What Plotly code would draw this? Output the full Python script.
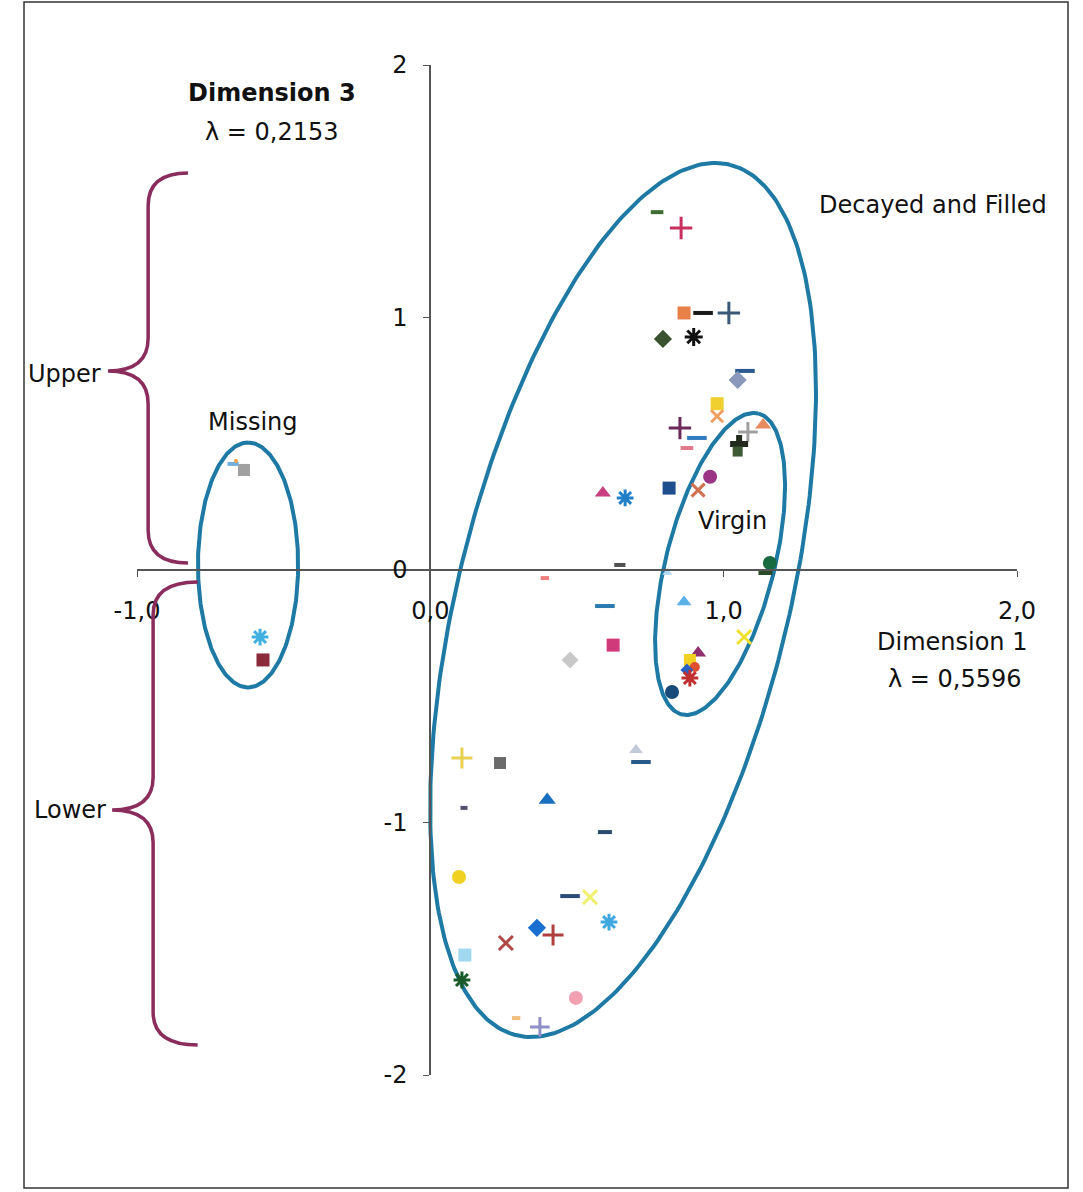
import numpy as np
import plotly.graph_objects as go

# ---------------- data (Dimension 1, Dimension 3) ----------------
dim1 = [0.775, 0.857, 0.867, 0.932, 1.020, 0.795, 0.900, 1.075, 1.050, 0.980,
        0.980, 0.853, 0.911, 0.877, 1.085, 1.137, 1.055, 1.050, 0.956, 0.915,
        0.816, 0.590, 0.666, 1.160, 1.145, 0.648, 0.392, 0.810, 0.597, 0.867,
        1.072, 0.625, 0.478, 0.915, 0.887, 0.904, 0.877, 0.887, 0.826, 0.109,
        0.239, 0.703, 0.720, 0.116, 0.400, 0.597, 0.099, 0.478, 0.546, 0.611,
        0.365, 0.420, 0.259, 0.119, 0.109, 0.498, 0.294, 0.375, -0.635, -0.672,
        -0.662, -0.580, -0.570]
dim3 = [1.420, 1.357, 1.020, 1.020, 1.020, 0.917, 0.925, 0.790, 0.754, 0.660,
        0.610, 0.563, 0.524, 0.484, 0.548, 0.575, 0.500, 0.470, 0.370, 0.317,
        0.325, 0.306, 0.286, 0.028, -0.012, 0.020, -0.032, -0.010, -0.143, -0.127,
        -0.266, -0.298, -0.357, -0.329, -0.357, -0.385, -0.397, -0.429, -0.484, -0.746,
        -0.766, -0.714, -0.762, -0.944, -0.913, -1.040, -1.218, -1.294, -1.298, -1.397,
        -1.420, -1.448, -1.480, -1.528, -1.627, -1.698, -1.778, -1.813, 0.397, 0.421,
        0.433, -0.266, -0.357]
marker_symbols = ["line-ew", "cross-thin", "square", "line-ew", "cross-thin", "diamond", "asterisk", "line-ew", "diamond", "square",
                  "x-thin", "cross-thin", "line-ew", "line-ew", "cross-thin", "triangle-up", "cross", "square", "circle", "x-thin",
                  "square", "triangle-up", "asterisk", "circle", "line-ew", "line-ew", "line-ew", "triangle-up", "line-ew", "triangle-up",
                  "x-thin", "square", "diamond", "triangle-up", "square", "circle", "diamond", "asterisk", "circle", "cross-thin",
                  "square", "triangle-up", "line-ew", "line-ew", "triangle-up", "line-ew", "circle", "line-ew", "x-thin", "asterisk",
                  "diamond", "cross-thin", "x-thin", "square", "asterisk", "circle", "line-ew", "cross-thin", "square", "line-ew",
                  "circle", "asterisk", "square"]
marker_colors = ["#3f6e35", "#c8305e", "#e8804a", "#1a1a1a", "#3a5878", "#3b5230", "#111111", "#2a5a90", "#8a98bb", "#f0d030",
                 "#f0a060", "#6a2a5a", "#2f7ac0", "#e07a8a", "#a0a0a0", "#e88a60", "#222a1e", "#3d5a35", "#9a3585", "#d07050",
                 "#1f4e8c", "#c8407f", "#2080c8", "#1a6a40", "#2a4a2a", "#505050", "#f08080", "#b0d8f0", "#2a7ab0", "#5ab0e8",
                 "#f0e030", "#d03a7a", "#c8c8c8", "#903070", "#f0d020", "#e05030", "#2a60c0", "#c03030", "#1a4a7a", "#e8d050",
                 "#6a6a6a", "#c0cad8", "#2a5a8a", "#505070", "#1a70c0", "#2a4a70", "#f0d020", "#2a4a78", "#f0f070", "#40a8e0",
                 "#1a70d0", "#b04040", "#b04848", "#a0d8f0", "#1a5a2a", "#f0a0b0", "#f0c080", "#9090c8", "#a0a0a0", "#70b0e0",
                 "#f0a040", "#40b0e0", "#8a2a3a"]
marker_sizes = [9, 16, 13, 14, 16, 14, 15, 14, 14, 13,
                12, 16, 14, 9, 14, 14, 15, 10, 14, 13,
                13, 14, 14, 14, 10, 8, 6, 9, 14, 13,
                14, 13, 13, 14, 12, 10, 10, 14, 14, 15,
                12, 12, 14, 5, 15, 10, 14, 14, 14, 14,
                14, 15, 14, 13, 14, 14, 6, 14, 12, 8,
                4, 14, 13]

x_ticks = [-1, 0, 1, 2]
x_tick_text = ["-1,0", "0,0", "1,0", "2,0"]
y_ticks = [-2, -1, 0, 1, 2]
y_tick_text = ["-2", "-1", "0", "1", "2"]

# group ellipses: centre, major semi-axis vector, minor semi-axis vector (data units)
ellipses = {
    "Decayed and Filled": (0.659, -0.119, 0.365, 1.727, 0.548, -0.157),
    "Virgin": (0.990, 0.024, 0.131, 0.597, 0.179, -0.053),
    "Missing": (-0.621, 0.020, 0.0, 0.486, 0.171, 0.0),
}

# ---------------- figure ----------------
W, H = 1083, 1192
FONT = "DejaVu Sans"
ELL_COLOR = "#1e7aa4"
BRACE_COLOR = "#8a2c5c"

fig = go.Figure()

t = np.linspace(0, 2 * np.pi, 300)
for name, (cx, cy, ux, uy, vx, vy) in ellipses.items():
    fig.add_trace(go.Scatter(
        x=cx + ux * np.cos(t) + vx * np.sin(t),
        y=cy + uy * np.cos(t) + vy * np.sin(t),
        mode="lines", line=dict(color=ELL_COLOR, width=4),
        hoverinfo="skip", showlegend=False))

line_syms = {"line-ew", "cross-thin", "x-thin", "asterisk"}
line_widths = [4 if s == "line-ew" else (3 if s in line_syms else 0) for s in marker_symbols]

fig.add_trace(go.Scatter(
    x=dim1, y=dim3, mode="markers", cliponaxis=False, showlegend=False,
    marker=dict(symbol=marker_symbols, color=marker_colors, size=marker_sizes, opacity=1,
                line=dict(color=marker_colors, width=line_widths))))

# dummy trace for the visible crossing axes
fig.add_trace(go.Scatter(x=[0], y=[0], xaxis="x2", yaxis="y2", mode="markers",
                         marker=dict(opacity=0), hoverinfo="skip", showlegend=False))

# pixel-linear full-figure data axes
x_lo, x_hi = -430 / 293, (W - 430) / 293
y_lo, y_hi = (570 - H) / 252, 570 / 252


def brace(xt, xs, xe, yt, ym, yb, r):
    return (f"M{xe},{yt} Q{xs},{yt} {xs},{yt - r} L{xs},{ym + r} "
            f"Q{xs},{ym} {xt},{ym} Q{xs},{ym} {xs},{ym - r} "
            f"L{xs},{yb + r} Q{xs},{yb} {xe},{yb}")


shapes = [
    dict(type="path", xref="x", yref="y",
         path=brace(-1.099, -0.962, -0.826, 1.575, 0.790, 0.028, 0.13),
         line=dict(color=BRACE_COLOR, width=3.5)),
    dict(type="path", xref="x", yref="y",
         path=brace(-1.085, -0.945, -0.793, -0.048, -0.952, -1.885, 0.13),
         line=dict(color=BRACE_COLOR, width=3.5)),
    dict(type="rect", xref="paper", yref="paper",
         x0=24 / W, x1=1068 / W, y0=1 - 1188 / H, y1=1 - 2 / H,
         line=dict(color="#333333", width=1.5)),
]

annotations = []


def label(text, x, y, bold=False, size=24):
    annotations.append(dict(
        text=f"<b>{text}</b>" if bold else text, x=x, y=y, xref="x", yref="y",
        showarrow=False, xanchor="center", yanchor="middle",
        font=dict(family=FONT, size=size, color="#111111")))


label("Dimension 3", -0.539, 1.893, bold=True)
label("λ = 0,2153", -0.539, 1.740)
label("Decayed and Filled", 1.717, 1.448)
label("Upper", -1.246, 0.778)
label("Missing", -0.604, 0.587)
label("Virgin", 1.034, 0.194)
label("Lower", -1.229, -0.952)
label("Dimension 1", 1.782, -0.286)
label("λ = 0,5596", 1.792, -0.433)

fig.update_layout(
    width=W, height=H, autosize=False,
    margin=dict(l=0, r=0, t=0, b=0, pad=0, autoexpand=False),
    paper_bgcolor="white", plot_bgcolor="rgba(0,0,0,0)",
    hovermode=False, showlegend=False,
    font=dict(family=FONT, size=24, color="#111111"),
    xaxis=dict(range=[x_lo, x_hi], domain=[0, 1], visible=False, fixedrange=True, automargin=False),
    yaxis=dict(range=[y_lo, y_hi], domain=[0, 1], visible=False, fixedrange=True, automargin=False),
    xaxis2=dict(domain=[137 / W, 1017 / W], range=[-1, 2], anchor="free",
                position=(H - 570) / H, showline=True, linecolor="#555555", linewidth=1.5,
                ticks="outside", ticklen=6, tickcolor="#555555", tickwidth=1.2,
                tickvals=x_ticks, ticktext=x_tick_text, showgrid=False, zeroline=False,
                ticklabelstandoff=13, tickfont=dict(family=FONT, size=24, color="#111111"),
                fixedrange=True, automargin=False),
    yaxis2=dict(domain=[(H - 1075) / H, (H - 65) / H], range=[-2, 2], anchor="free",
                position=430 / W, showline=True, linecolor="#555555", linewidth=1.5,
                ticks="outside", ticklen=6, tickcolor="#555555", tickwidth=1.2,
                tickvals=y_ticks, ticktext=y_tick_text, showgrid=False, zeroline=False,
                ticklabelstandoff=11, tickfont=dict(family=FONT, size=24, color="#111111"),
                fixedrange=True, automargin=False),
    shapes=shapes, annotations=annotations,
)

fig.write_html("out.html", config={"responsive": False, "displayModeBar": False})
